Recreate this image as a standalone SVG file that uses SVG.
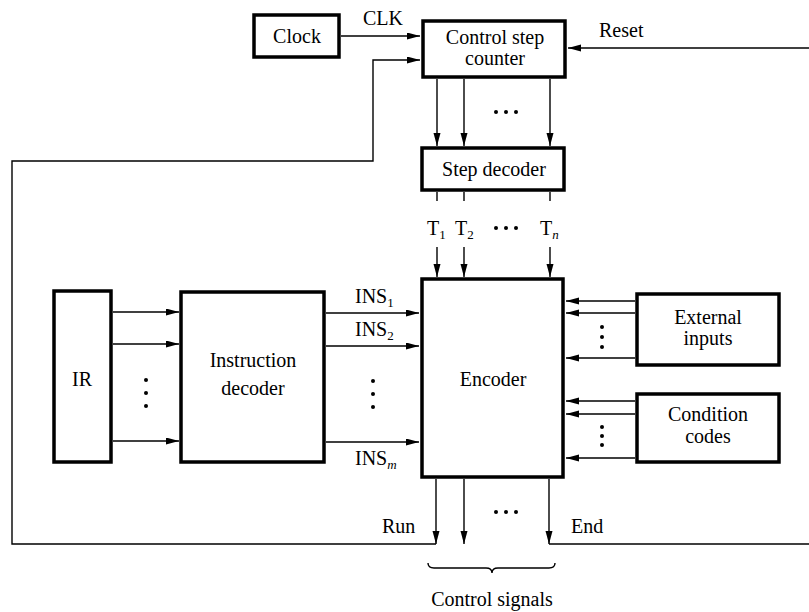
<svg xmlns="http://www.w3.org/2000/svg" width="809" height="612" viewBox="0 0 809 612" font-family="'Liberation Serif', 'DejaVu Serif', serif" font-size="20">
<style>
.box{fill:#fff;stroke:#000;stroke-width:3.5}
.ln{fill:none;stroke:#000;stroke-width:1.4}
.ar{fill:none;stroke:#000;stroke-width:1.4;marker-end:url(#ah)}
text{font-family:'Liberation Serif','DejaVu Serif',serif;font-size:20px;fill:#000}
.c{text-anchor:middle}
.sub{font-size:13px;fill:#000}
.dot{fill:#000}
</style>
<defs>
<marker id="ah" markerUnits="userSpaceOnUse" markerWidth="14" markerHeight="8" refX="13" refY="3.5" orient="auto">
<path d="M0,0 L13,3.5 L0,7 z" fill="#000"/>
</marker>
</defs>
<rect width="809" height="612" fill="#fff"/>
<g id="connectors">
<path class="ar" d="M341,36 H420"/>
<path class="ar" d="M436,544 H12 V161 H373 V60 H420"/>
<path class="ar" d="M809,48 H568"/>
<path class="ln" d="M549,544 H809"/>
<path class="ar" d="M437,79 V146"/>
<path class="ar" d="M464,79 V146"/>
<path class="ar" d="M550,79 V146"/>
<path class="ln" d="M437,192 V201 M464,192 V201 M550,192 V201"/>
<path class="ar" d="M437,247 V277"/>
<path class="ar" d="M464,247 V277"/>
<path class="ar" d="M550,247 V277"/>
<path class="ar" d="M113,312 H179"/>
<path class="ar" d="M113,344 H179"/>
<path class="ar" d="M113,441 H179"/>
<path class="ar" d="M326,313 H419"/>
<path class="ar" d="M326,346 H419"/>
<path class="ar" d="M326,442 H419"/>
<path class="ar" d="M635,301 H566"/>
<path class="ar" d="M635,313 H566"/>
<path class="ar" d="M635,358 H566"/>
<path class="ar" d="M635,401 H566"/>
<path class="ar" d="M635,414 H566"/>
<path class="ar" d="M635,458 H566"/>
<path class="ar" d="M436,479 V544"/>
<path class="ar" d="M464,479 V544"/>
<path class="ar" d="M549,479 V544"/>
<path class="ln" d="M428,563 q0,5 6,5 H486 q6,0 6,5 q0,-5 6,-5 H549 q6,0 6,-5"/>
<g class="dot">
<circle cx="496" cy="112" r="2"/><circle cx="506" cy="112" r="2"/><circle cx="516" cy="112" r="2"/>
<circle cx="496" cy="228" r="2"/><circle cx="506" cy="228" r="2"/><circle cx="516" cy="228" r="2"/>
<circle cx="496" cy="512" r="2"/><circle cx="506" cy="512" r="2"/><circle cx="516" cy="512" r="2"/>
<circle cx="146" cy="380" r="2"/><circle cx="146" cy="393" r="2"/><circle cx="146" cy="406" r="2"/>
<circle cx="373" cy="381" r="2"/><circle cx="373" cy="394" r="2"/><circle cx="373" cy="407" r="2"/>
<circle cx="602" cy="327" r="2"/><circle cx="602" cy="337" r="2"/><circle cx="602" cy="347" r="2"/>
<circle cx="602" cy="427" r="2"/><circle cx="602" cy="436" r="2"/><circle cx="602" cy="445" r="2"/>
</g>
<text x="363" y="25">CLK</text>
<text x="599" y="37">Reset</text>
<text x="427" y="235">T<tspan class="sub" dy="4">1</tspan></text>
<text x="455" y="235">T<tspan class="sub" dy="4">2</tspan></text>
<text x="540" y="235">T<tspan class="sub" dy="4" font-style="italic">n</tspan></text>
<text x="355" y="303">INS<tspan class="sub" dy="4">1</tspan></text>
<text x="355" y="336">INS<tspan class="sub" dy="4">2</tspan></text>
<text x="355" y="465">INS<tspan class="sub" dy="4" font-style="italic">m</tspan></text>
<text x="382" y="533">Run</text>
<text x="571" y="533">End</text>
<text class="c" x="492" y="606">Control signals</text>
</g>
<g id="clock"><rect class="box" x="254" y="15" width="85" height="42"/><text class="c" x="297" y="43">Clock</text></g>
<g id="counter"><rect class="box" x="423" y="21" width="142" height="56"/><text class="c" x="495" y="44">Control step</text><text class="c" x="495" y="65">counter</text></g>
<g id="step-decoder"><rect class="box" x="422" y="148" width="142" height="42"/><text class="c" x="494" y="176">Step decoder</text></g>
<g id="ir"><rect class="box" x="54" y="291" width="57" height="171"/><text class="c" x="82" y="386">IR</text></g>
<g id="instruction-decoder"><rect class="box" x="181" y="292" width="143" height="170"/><text class="c" x="253" y="367">Instruction</text><text class="c" x="253" y="395">decoder</text></g>
<g id="encoder"><rect class="box" x="422" y="279" width="141" height="198"/><text class="c" x="493" y="386">Encoder</text></g>
<g id="external-inputs"><rect class="box" x="637" y="294" width="142" height="71"/><text class="c" x="708" y="324">External</text><text class="c" x="708" y="345">inputs</text></g>
<g id="condition-codes"><rect class="box" x="637" y="394" width="142" height="68"/><text class="c" x="708" y="421">Condition</text><text class="c" x="708" y="443">codes</text></g>
</svg>
